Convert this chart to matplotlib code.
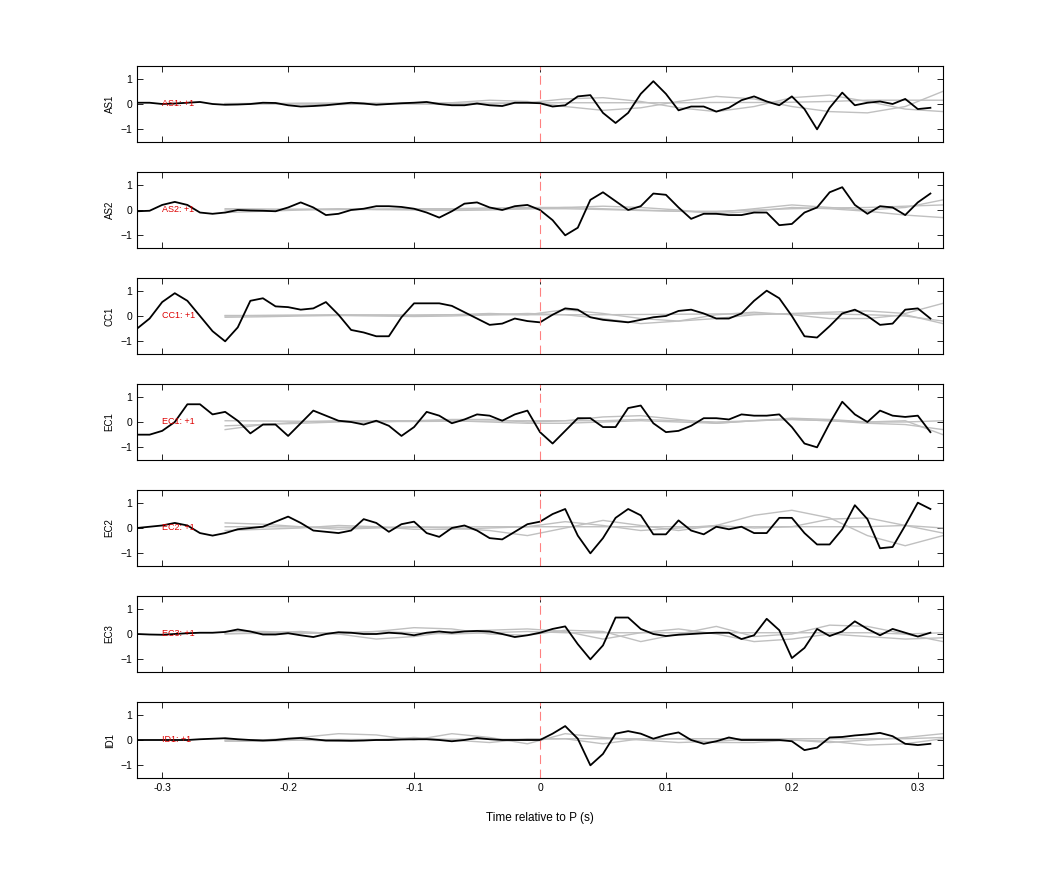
import numpy as np
import matplotlib
matplotlib.use("Agg")
import matplotlib.pyplot as plt

plt.rcParams['font.family'] = ['Liberation Sans', 'DejaVu Sans']

stations = ["AS1", "AS2", "CC1", "EC1", "EC2", "EC3", "ID1"]
t = np.round(np.arange(-0.32, 0.315, 0.01), 2)

AS1 = [0.05,0.05,0.0,0.02,0.05,0.08,0.0,-0.03,-0.02,0.0,0.05,0.04,-0.05,-0.1,-0.08,-0.05,0.0,0.05,0.02,-0.03,0.0,0.03,0.05,0.08,0.0,-0.05,-0.05,0.02,-0.05,-0.08,0.05,0.05,
       0.03,-0.1,-0.05,0.3,0.35,-0.35,-0.75,-0.35,0.4,0.9,0.4,-0.25,-0.1,-0.1,-0.3,-0.15,0.15,0.3,0.1,-0.05,0.3,-0.2,-1.0,-0.15,0.45,-0.05,0.05,0.1,0.0,0.2,-0.2,-0.15]
AS2 = [-0.05,-0.03,0.2,0.32,0.2,-0.1,-0.15,-0.1,0.0,-0.02,-0.03,-0.05,0.1,0.3,0.1,-0.2,-0.15,0.0,0.05,0.15,0.15,0.12,0.05,-0.1,-0.3,-0.05,0.25,0.3,0.1,0.0,0.15,0.2,
       0.0,-0.4,-1.0,-0.7,0.4,0.7,0.35,0.0,0.15,0.65,0.6,0.1,-0.35,-0.15,-0.15,-0.2,-0.2,-0.1,-0.1,-0.6,-0.55,-0.1,0.1,0.7,0.9,0.2,-0.15,0.15,0.1,-0.2,0.3,0.65]
CC1 = [-0.5,-0.1,0.55,0.9,0.6,0.0,-0.6,-1.0,-0.45,0.6,0.7,0.38,0.35,0.25,0.3,0.55,0.05,-0.55,-0.65,-0.8,-0.8,-0.05,0.5,0.5,0.5,0.4,0.15,-0.1,-0.35,-0.3,-0.1,-0.2,
       -0.25,0.05,0.3,0.25,-0.05,-0.15,-0.2,-0.25,-0.15,-0.05,0.0,0.2,0.25,0.1,-0.1,-0.1,0.1,0.6,1.0,0.7,0.0,-0.8,-0.85,-0.4,0.1,0.25,0.0,-0.35,-0.3,0.25,0.3,-0.1]
EC1 = [-0.5,-0.5,-0.35,0.0,0.7,0.7,0.3,0.4,0.05,-0.45,-0.1,-0.1,-0.55,-0.05,0.45,0.25,0.05,0.0,-0.1,0.05,-0.15,-0.55,-0.2,0.4,0.25,-0.05,0.1,0.3,0.25,0.05,0.3,0.45,
       -0.4,-0.85,-0.35,0.15,0.15,-0.2,-0.2,0.55,0.65,-0.05,-0.4,-0.35,-0.15,0.15,0.15,0.1,0.3,0.25,0.25,0.3,-0.2,-0.85,-1.0,-0.05,0.8,0.3,0.0,0.45,0.25,0.2,0.25,-0.4]
EC2 = [0.0,0.05,0.1,0.2,0.1,-0.2,-0.3,-0.2,-0.05,0.0,0.05,0.25,0.45,0.2,-0.1,-0.15,-0.2,-0.1,0.35,0.2,-0.15,0.15,0.25,-0.2,-0.35,0.0,0.1,-0.1,-0.4,-0.45,-0.15,0.15,
       0.25,0.55,0.75,-0.3,-1.0,-0.4,0.4,0.75,0.5,-0.25,-0.25,0.3,-0.1,-0.25,0.05,-0.05,0.05,-0.2,-0.2,0.4,0.4,-0.2,-0.65,-0.65,-0.05,0.9,0.35,-0.8,-0.75,0.1,1.0,0.75]
EC3 = [0.0,-0.02,-0.03,0.0,0.03,0.05,0.05,0.08,0.18,0.1,-0.02,-0.02,0.03,-0.05,-0.12,0.0,0.07,0.05,0.0,0.0,0.05,0.02,-0.05,0.05,0.1,0.05,0.1,0.12,0.1,0.0,-0.12,-0.05,
       0.05,0.2,0.3,-0.4,-1.0,-0.45,0.65,0.65,0.2,0.0,-0.08,-0.03,0.0,0.03,0.05,0.05,-0.2,-0.05,0.6,0.15,-0.95,-0.55,0.2,-0.08,0.1,0.5,0.2,-0.05,0.2,0.05,-0.1,0.05]
ID1 = [0.0,0.0,0.0,0.0,0.0,0.03,0.05,0.07,0.03,0.0,-0.02,0.0,0.05,0.08,0.03,-0.02,-0.02,-0.03,-0.02,0.0,0.0,0.02,0.03,0.03,0.0,-0.05,0.0,0.08,0.03,0.0,0.0,0.0,
       0.0,0.25,0.55,0.05,-1.0,-0.55,0.25,0.35,0.25,0.05,0.2,0.3,0.0,-0.15,-0.05,0.1,0.0,0.0,0.0,0.0,-0.05,-0.4,-0.3,0.1,0.12,0.18,0.22,0.28,0.15,-0.15,-0.2,-0.15]
black = [AS1, AS2, CC1, EC1, EC2, EC3, ID1]

# gray comparison traces, sampled every 0.03 s from -0.25 s
tg = np.round(np.arange(-0.25, 0.33, 0.03), 2)
gray = {
 "AS1": [[0,0,0.02,0.03,0.02,0,-0.02,0,0.05,0.2,0.25,0.1,-0.15,-0.3,-0.1,0.25,0.35,0.1,-0.2,-0.3],
         [0,0.02,0,-0.02,0,0.02,0.05,0.15,0.1,-0.1,-0.25,-0.15,0.1,0.3,0.2,-0.1,-0.3,-0.35,-0.1,0.5],
         [0.02,0.02,0.03,0.03,0.03,0.03,0.03,0.04,0.04,0.05,0.05,0.05,0.05,0.06,0.06,0.07,0.1,0.15,0.15,0.15]],
 "AS2": [[-0.1,-0.05,0,0.02,0.03,0.05,0.05,0.08,0.1,0.1,0.05,0,-0.05,-0.1,0.05,0.2,0.1,0,0.1,0.4],
         [0,0,0.02,0.05,0.02,0,-0.02,0,0.05,0.1,0.15,0.1,0,-0.15,-0.05,0.1,0.05,-0.05,-0.2,-0.3],
         [0.05,0.04,0.03,0.02,0.02,0.03,0.03,0.04,0.05,0.05,0.02,-0.02,-0.05,-0.05,0,0.05,0.08,0.1,0.15,0.2]],
 "CC1": [[0,0.02,0.03,0.05,0.04,0.02,0.05,0.1,0.05,0.25,0.1,-0.1,-0.2,-0.1,0.05,0.1,0.15,0.2,0.1,0.5],
         [-0.05,-0.03,0,0.02,0.0,-0.02,0.0,0.05,0.1,0.05,-0.1,-0.3,-0.2,0.05,0.15,0.05,-0.1,-0.1,0.05,-0.3],
         [0.02,0.02,0.03,0.03,0.04,0.04,0.05,0.05,0.05,0.05,0.05,0.06,0.07,0.08,0.08,0.08,0.08,0.05,0,-0.2]],
 "EC1": [[-0.3,-0.1,0,0.05,0.05,0.05,0.1,0.1,0.0,0.05,0.2,0.25,0.1,-0.05,0.05,0.15,0.1,0.0,0.05,-0.5],
         [-0.15,-0.1,-0.05,0,0.0,0.05,0.05,0.0,-0.05,-0.05,0.0,0.05,0.0,-0.05,0.05,0.1,0.05,-0.05,-0.1,-0.3],
         [0.05,0.04,0.03,0.02,0.02,0.02,0.03,0.04,0.05,0.05,0.05,0.1,0.05,0.0,0.05,0.1,0.05,0.0,0.0,0.05]],
 "EC2": [[0.2,0.15,0.05,-0.05,0.0,0.05,0.0,-0.1,-0.3,0.0,0.3,0.1,-0.1,0.1,0.5,0.7,0.4,-0.3,-0.7,-0.3],
         [-0.1,-0.05,0.0,0.1,0.05,-0.05,-0.05,0.0,0.05,0.25,0.1,-0.1,0.0,0.1,0.0,0.05,0.35,0.4,0.1,-0.2],
         [0.05,0.05,0.04,0.03,0.03,0.03,0.04,0.05,0.05,0.05,0.05,0.05,0.05,0.05,0.05,0.05,0.05,0.05,0.1,0.0]],
 "EC3": [[0.1,0.1,0.05,0.0,0.1,0.25,0.2,0.0,-0.05,0.15,0.1,-0.3,0.0,0.3,-0.1,0.0,0.35,0.3,0.0,-0.3],
         [0.0,0.05,0.1,0.0,-0.2,-0.1,0.1,0.15,0.2,0.1,-0.2,0.05,0.2,0.0,-0.3,-0.2,0.0,-0.1,-0.2,-0.15],
         [0.02,0.02,0.03,0.05,0.1,0.05,0.0,0.05,0.1,0.05,0.05,0.05,0.05,0.05,0.05,0.05,0.05,0.05,0.0,0.05]],
 "ID1": [[0.0,0.0,0.1,0.25,0.2,0.0,0.25,0.1,-0.15,0.25,0.1,0.0,-0.1,-0.05,0.05,0.0,-0.1,0.0,0.1,0.25],
         [-0.05,-0.05,0.0,-0.05,0.0,0.1,0.0,-0.1,0.05,0.05,-0.15,0.05,0.05,-0.1,-0.1,0.0,-0.05,-0.2,-0.15,0.05],
         [0.0,0.0,0.0,0.02,0.02,0.02,0.03,0.03,0.03,0.05,0.05,0.05,0.05,0.05,0.05,0.05,0.05,0.05,0.05,0.1]],
}

W, H = 1042, 875
fig = plt.figure(figsize=(W/100, H/100), dpi=100)
tops = [66, 172, 278, 384, 490, 596, 702]
left, right, ph = 137, 943, 76
for i, (st, y) in enumerate(zip(stations, black)):
    ax = fig.add_axes([left/W, 1-(tops[i]+ph)/H, (right-left)/W, ph/H])
    for g in gray[st]:
        ax.plot(tg, g, color='#c0c0c0', lw=1)
    ax.plot(t, y, color='black', lw=1.3)
    ax.axvline(0, color='#ff8080', lw=0.8, ls=(0, (8, 5)))
    ax.text(-0.30, 0, f"{st}: +1", color='#dd0000', fontsize=6.5, va='center', ha='left')
    ax.set_xlim(-0.32, 0.32)
    ax.set_ylim(-1.5, 1.5)
    ax.set_yticks([-1, 0, 1])
    ax.set_xticks([-0.3, -0.2, -0.1, 0, 0.1, 0.2, 0.3])
    ax.tick_params(direction='in', top=True, right=True, labelsize=7.5, length=4, width=0.6)
    ax.set_ylabel(st, fontsize=7)
    for s in ax.spines.values():
        s.set_linewidth(0.8)
    if i < len(stations)-1:
        ax.set_xticklabels([])
    else:
        ax.set_xticklabels(["-0.3", "-0.2", "-0.1", "0", "0.1", "0.2", "0.3"])
        ax.set_xlabel("Time relative to P (s)", fontsize=8.5, labelpad=14)
fig.savefig("out.png", dpi=100)
